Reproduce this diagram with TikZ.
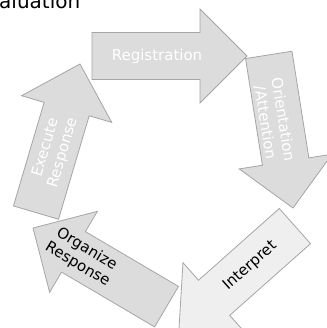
\documentclass[tikz,border=0pt]{standalone}
\usepackage{fontspec}
\setmainfont{DejaVu Sans}
\usepackage{xcolor}
\definecolor{cyclegray}{RGB}{220, 220, 220}
\definecolor{cyclelight}{RGB}{239, 239, 239}
\definecolor{cycleline}{RGB}{165, 165, 165}
\usepackage{tikz}
\usetikzlibrary{calc}

\tikzset{
  cyclearrow/.pic={
    \draw[draw=cycleline, line width=0.8pt, line join=miter, pic actions]
      (0,0) -- (-47,47) -- (-47,23.5) -- (-155,23.5)
      -- (-155,-23.5) -- (-47,-23.5) -- (-47,-47) -- cycle;
  },
  cyclelabel/.style={
    font=\fontsize{15}{18}\selectfont,
    align=center,
    inner sep=0pt
  }
}

\begin{document}
\begin{tikzpicture}[x=1pt, y=1pt]
    \useasboundingbox (0,0) rectangle (326,328);

    % title, cut by the page edge
    \node[anchor=base west, inner sep=0pt, font=\fontsize{20}{24}\selectfont] (title) at (-1,319.5) {aluation};

    % tips of the five arrows
    \coordinate (regtip) at (247,272);
    \coordinate (orttip) at (293,120);
    \coordinate (inttip) at (179,-1);
    \coordinate (orgtip) at (33,100);
    \coordinate (exetip) at (80,264);

    \pic[fill=cyclegray] at (regtip) {cyclearrow};
    \pic[fill=cyclegray, rotate=-81] at (orttip) {cyclearrow};
    \pic[fill=cyclelight, rotate=-138.4] at (inttip) {cyclearrow};
    \pic[fill=cyclegray, rotate=149.5] at (orgtip) {cyclearrow};
    \pic[fill=cyclegray, rotate=73.5] at (exetip) {cyclearrow};

    \node[cyclelabel, text=white] (registration) at ($(regtip)+(180:90)$) {Registration};
    \node[cyclelabel, text=white, rotate=-81] (orientation) at ($(orttip)+(102.3:89)$) {Orientation\\/Attention};
    \node[cyclelabel, rotate=41.6] (interpret) at ($(inttip)+(41.6:95)$) {Interpret};
    \node[cyclelabel, rotate=-30.5] (organize) at ($(orgtip)+(-30.5:57)$) {Organize\\Response};
    \node[cyclelabel, text=white, rotate=73.5] (execute) at ($(exetip)+(253.5:90)$) {Execute\\Response};
  \end{tikzpicture}
\end{document}
